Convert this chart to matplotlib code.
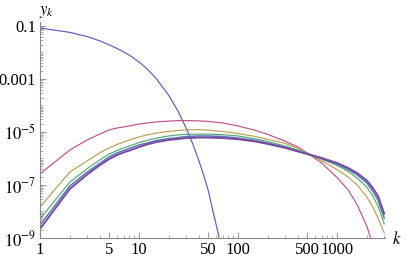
import matplotlib
matplotlib.use("Agg")
import matplotlib.pyplot as plt
import numpy as np
from matplotlib.ticker import FixedLocator, FixedFormatter, NullFormatter

# decaying curve, log10(y_k)
k_dec = [1, 2, 3, 4, 5, 6, 7, 8, 10, 12, 15, 20, 25, 30, 35, 40, 45, 50, 55, 60, 65, 70]
logy_dec = [-1.08, -1.24, -1.40, -1.56, -1.71, -1.85, -1.98, -2.10, -2.36, -2.61,
            -2.99, -3.62, -4.24, -4.86, -5.46, -6.05, -6.63, -7.20, -7.88, -8.48, -9.05, -9.6]

# hump-shaped family, one k grid for all of them
k_fam = [1, 2, 3, 4, 5, 6, 7, 8, 10, 12, 15, 20, 25, 30, 40, 50, 70, 100, 150, 200,
         300, 400, 500, 700, 1000, 1300, 1600, 2000, 2300, 2600, 3000]
logy_magenta = [-6.58, -5.68, -5.30, -5.08, -4.92, -4.85, -4.81, -4.77, -4.70, -4.66,
                -4.62, -4.59, -4.57, -4.57, -4.58, -4.60, -4.66, -4.77, -4.94, -5.09,
                -5.35, -5.56, -5.79, -6.17, -6.72, -7.19, -7.75, -8.55, -9.26, -10.3, -12.0]
logy_olive = [-7.83, -6.51, -6.09, -5.79, -5.60, -5.47, -5.38, -5.30, -5.19, -5.11,
              -5.04, -4.98, -4.94, -4.92, -4.91, -4.93, -4.98, -5.06, -5.17, -5.28,
              -5.43, -5.62, -5.79, -6.08, -6.42, -6.70, -7.00, -7.45, -7.83, -8.25, -8.81]
logy_green = [-8.28, -6.89, -6.38, -6.06, -5.83, -5.70, -5.60, -5.53, -5.40, -5.32,
              -5.23, -5.15, -5.11, -5.09, -5.08, -5.08, -5.10, -5.15, -5.26, -5.36,
              -5.53, -5.68, -5.81, -6.02, -6.26, -6.49, -6.74, -7.08, -7.42, -7.79, -8.47]
logy_blue = [-8.51, -7.04, -6.51, -6.19, -5.94, -5.79, -5.70, -5.62, -5.49, -5.42,
             -5.32, -5.25, -5.21, -5.17, -5.15, -5.15, -5.17, -5.23, -5.32, -5.42,
             -5.58, -5.72, -5.83, -6.00, -6.21, -6.42, -6.62, -6.92, -7.23, -7.57, -8.25]
logy_purple = [-8.66, -7.15, -6.60, -6.26, -6.02, -5.87, -5.77, -5.70, -5.57, -5.47,
               -5.38, -5.30, -5.26, -5.23, -5.21, -5.21, -5.23, -5.27, -5.36, -5.45,
               -5.60, -5.73, -5.83, -5.98, -6.17, -6.36, -6.55, -6.83, -7.11, -7.42, -8.09]

xtick_vals = [1, 5, 10, 50, 100, 500, 1000]
ytick_vals = [1e-1, 1e-3, 1e-5, 1e-7, 1e-9]
ytick_labels = ["0.1", "0.001", r"$10^{-5}$", r"$10^{-7}$", r"$10^{-9}$"]

plt.rcParams['font.family'] = ['Liberation Serif', 'DejaVu Serif']
plt.rcParams['mathtext.fontset'] = 'stix'

fig = plt.figure(figsize=(4.07, 2.59), dpi=100)
ax = fig.add_axes([40 / 407, 21 / 259, 345 / 407, 216 / 259])

ax.plot(k_dec, 10.0 ** np.array(logy_dec), color='#5b5bc0', lw=0.85)
ax.plot(k_fam, 10.0 ** np.array(logy_magenta), color='#c0508e', lw=0.85)
ax.plot(k_fam, 10.0 ** np.array(logy_olive), color='#b8a050', lw=0.85)
ax.plot(k_fam, 10.0 ** np.array(logy_green), color='#4fa878', lw=0.85)
ax.plot(k_fam, 10.0 ** np.array(logy_blue), color='#5a74b8', lw=1.1)
ax.plot(k_fam, 10.0 ** np.array(logy_purple), color='#7a4a9e', lw=1.4)

ax.set_xscale('log')
ax.set_yscale('log')
ax.set_xlim(1, 10 ** 3.485)
ax.set_ylim(1e-9, 10 ** -0.85)

for s in ['top', 'right']:
    ax.spines[s].set_visible(False)
for s in ['left', 'bottom']:
    ax.spines[s].set_color('#888888')
    ax.spines[s].set_linewidth(0.8)

ax.xaxis.set_major_locator(FixedLocator(xtick_vals))
ax.xaxis.set_major_formatter(FixedFormatter([str(v) for v in xtick_vals]))
xminor = [m * 10 ** d for d in range(4) for m in range(2, 10) if m != 5]
ax.xaxis.set_minor_locator(FixedLocator(xminor))
ax.xaxis.set_minor_formatter(NullFormatter())

ax.yaxis.set_major_locator(FixedLocator(ytick_vals))
ax.yaxis.set_major_formatter(FixedFormatter(ytick_labels))
yminor = [m * 10.0 ** d for d in range(-9, 0) for m in range(1, 10)
          if not (m == 1 and d % 2 == 1)]
ax.yaxis.set_minor_locator(FixedLocator(yminor))
ax.yaxis.set_minor_formatter(NullFormatter())

ax.tick_params(which='major', direction='in', length=4, width=0.6,
               color='#888888', labelsize=12, pad=3)
ax.tick_params(which='minor', direction='in', length=2, width=0.5,
               color='#888888')

fig.text(47 / 407, 1 - 12 / 259, r"$y_k$", fontsize=12, ha='center', va='center')
fig.text(397 / 407, 1 - 240 / 259, r"$k$", fontsize=12, ha='center', va='center')

fig.savefig("out.png", dpi=100)
